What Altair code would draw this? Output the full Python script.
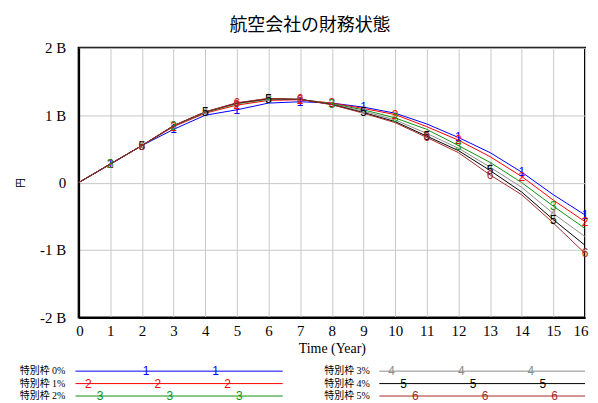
import altair as alt
import pandas as pd

# ---------------- data ----------------
years = list(range(17))
series_names = ["特別枠 0%", "特別枠 1%", "特別枠 2%", "特別枠 3%", "特別枠 4%", "特別枠 5%"]
series_marks = ["1", "2", "3", "4", "5", "6"]

# values in billions of yen
s0 = [0, 0.27, 0.55, 0.79, 1.00, 1.08, 1.18, 1.20, 1.18, 1.12, 1.03, 0.87, 0.67, 0.445, 0.155, -0.18, -0.48]
s1 = [0, 0.275, 0.55, 0.83, 1.03, 1.15, 1.22, 1.23, 1.18, 1.10, 1.01, 0.83, 0.63, 0.385, 0.09, -0.26, -0.58]
s2 = [0, 0.276, 0.55, 0.84, 1.04, 1.17, 1.235, 1.235, 1.17, 1.08, 0.96, 0.79, 0.55, 0.30, 0.0, -0.35, -0.68]
s3 = [0, 0.276, 0.55, 0.84, 1.045, 1.175, 1.24, 1.235, 1.165, 1.06, 0.93, 0.73, 0.51, 0.23, -0.07, -0.46, -0.80]
s4 = [0, 0.277, 0.55, 0.845, 1.05, 1.18, 1.245, 1.235, 1.16, 1.04, 0.905, 0.69, 0.475, 0.18, -0.14, -0.55, -0.93]
s5 = [0, 0.277, 0.55, 0.845, 1.05, 1.185, 1.25, 1.235, 1.155, 1.03, 0.89, 0.67, 0.445, 0.114, -0.18, -0.60, -1.05]
series_values = [s0, s1, s2, s3, s4, s5]

# years at which each series shows its number marker
marker_years = [
    [1, 3, 5, 7, 9, 12, 14, 16],
    [1, 3, 5, 7, 8, 10, 12, 14, 16],
    [1, 3, 6, 8, 10, 12, 15],
    [2, 4, 6, 9, 13, 15],
    [2, 4, 6, 9, 11, 13, 15],
    [2, 5, 7, 11, 13, 16],
]

y_ticks = [-2, -1, 0, 1, 2]

# ---------------- style / layout ----------------
colors = ["#0000ff", "#ff0000", "#109010", "#8c8c8c", "#000000", "#a52a2a"]
PLOT_W, PLOT_H = 509, 271
LEG_H = 35
# legend layout (in the legend panel's own x units, 0..16 spanning the panel width)
leg_line_start = [-0.1, 9.5]
leg_line_end = [6.45, 16.0]
leg_label_x = [-0.42, 9.2]
leg_mark_first = [-0.07, 9.89]
leg_mark_step = 2.2
leg_mark_shift = 0.375

rows = []
for name, mk, vals, ys in zip(series_names, series_marks, series_values, marker_years):
    for t, v in zip(years, vals):
        rows.append({"series": name, "t": t, "v": v, "mk": mk if t in ys else ""})
df = pd.DataFrame(rows)

color = alt.Color("series:N", scale=alt.Scale(domain=series_names, range=colors), legend=None)

x = alt.X("t:Q", scale=alt.Scale(domain=[0, 16], nice=False),
          axis=alt.Axis(values=years, title="Time (Year)", format="d", tickCount=17,
                        labelOverlap=False, labelFlush=True, labelFlushOffset=3,
                        labelPadding=6, titlePadding=3, titleFontSize=14))
y = alt.Y("v:Q", scale=alt.Scale(domain=[-2, 2], nice=False),
          axis=alt.Axis(values=y_ticks, title="円",
                        labelExpr="datum.value == 0 ? '0' : (datum.value < 0 ? '-' : '') + abs(datum.value) + ' B'",
                        labelOverlap=False, labelFlush=False,
                        labelPadding=13, titlePadding=14, titleFont="Noto Sans CJK JP",
                        titleFontSize=10))

base = alt.Chart(df).encode(x=x, y=y, color=color)
lines = base.mark_line(strokeWidth=1).encode(order="t:Q")
marks = base.mark_text(font="Liberation Sans", fontSize=12).encode(text="mk:N").transform_filter(
    "datum.mk != ''")

main = alt.layer(lines, marks).properties(
    width=PLOT_W, height=PLOT_H,
    view=alt.ViewBackground(stroke="#000000", strokeWidth=2, strokeOpacity=1))

# ---------------- legend panel ----------------
lrows, ltext = [], []
for i, (name, mk) in enumerate(zip(series_names, series_marks)):
    col, row = i // 3, i % 3
    lrows.append({"series": name, "row": row, "x0": leg_line_start[col], "x1": leg_line_end[col],
                  "lx": leg_label_x[col]})
    base_x = leg_mark_first[col] + row * leg_mark_shift
    for k in range(3):
        px = base_x + k * leg_mark_step
        if px > leg_line_start[col] + 0.2:
            ltext.append({"series": name, "row": row, "px": px, "mk": mk})
ldf = pd.DataFrame(lrows)
ltdf = pd.DataFrame(ltext)

lx_scale = alt.Scale(domain=[0, 16], nice=False)
ly_scale = alt.Scale(domain=[-0.4, 2.4], nice=False, reverse=True)

leg_lines = alt.Chart(ldf).mark_rule(strokeWidth=1).encode(
    x=alt.X("x0:Q", scale=lx_scale, axis=None), x2="x1:Q",
    y=alt.Y("row:Q", scale=ly_scale, axis=None), color=color)
leg_labels = alt.Chart(ldf).mark_text(align="right", font="Liberation Serif, Noto Sans CJK JP",
                                      fontSize=10).encode(
    x=alt.X("lx:Q", scale=lx_scale, axis=None),
    y=alt.Y("row:Q", scale=ly_scale, axis=None), text="series:N",
    color=alt.value("#000000"))
leg_marks = alt.Chart(ltdf).mark_text(font="Liberation Sans", fontSize=12).encode(
    x=alt.X("px:Q", scale=lx_scale, axis=None),
    y=alt.Y("row:Q", scale=ly_scale, axis=None), text="mk:N", color=color)

legend = alt.layer(leg_lines, leg_labels, leg_marks).properties(
    width=PLOT_W, height=LEG_H,
    view=alt.ViewBackground(strokeOpacity=0))

chart = alt.vconcat(main, legend, spacing=9).properties(
    title=alt.TitleParams("航空会社の財務状態", font="Noto Sans CJK JP", fontSize=18,
                          fontWeight="normal", anchor="middle", color="#000000", offset=5, dx=8),
    padding={"left": 6, "top": 8, "right": 0, "bottom": 0},
).configure_axis(
    labelFont="Liberation Serif", labelFontSize=15, labelColor="#000000",
    titleFont="Liberation Serif", titleFontWeight="normal", titleColor="#000000",
    domainColor="#000000", domainWidth=2, ticks=False,
    gridColor="#c8c8c8", gridWidth=1,
).configure_axisX(labelOverlap=False).configure_view(strokeOpacity=0)

chart.save("out.html", embed_options={"renderer": "svg", "actions": False})
